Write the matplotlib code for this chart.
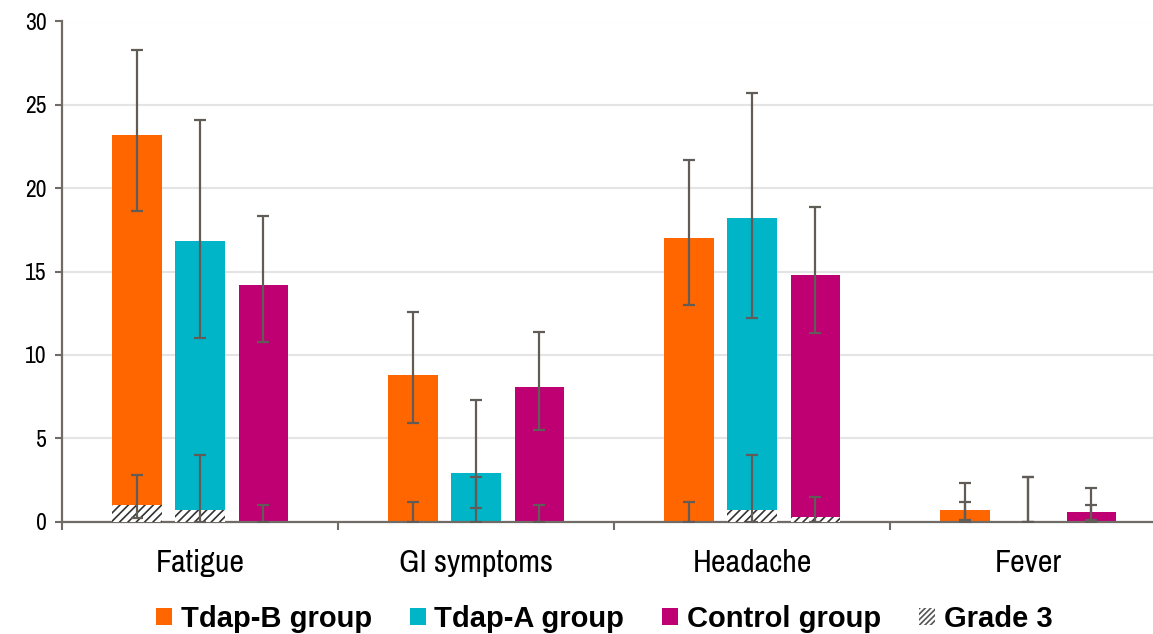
import matplotlib
matplotlib.use("Agg")
import matplotlib.pyplot as plt
import numpy as np
from matplotlib.patches import Patch

plt.rcParams['font.family'] = ['Archivo Narrow', 'Liberation Sans', 'DejaVu Sans']
plt.rcParams['hatch.linewidth'] = 1.2

# Data
categories = ['Fatigue', 'GI symptoms', 'Headache', 'Fever']
groups = ['Tdap-B group', 'Tdap-A group', 'Control group']
colors = ['#FF6600', '#00B5C8', '#BE0072']

tdap_b = [23.2, 8.8, 17.0, 0.7]
tdap_b_lo = [18.6, 5.9, 13.0, 0.1]
tdap_b_hi = [28.3, 12.6, 21.7, 2.3]
tdap_a = [16.8, 2.9, 18.2, 0.0]
tdap_a_lo = [11.0, 0.8, 12.2, 0.0]
tdap_a_hi = [24.1, 7.3, 25.7, 2.7]
control = [14.2, 8.1, 14.8, 0.6]
control_lo = [10.8, 5.5, 11.3, 0.1]
control_hi = [18.3, 11.4, 18.9, 2.0]

# Grade 3 portion
tdap_b_g3 = [1.0, 0.0, 0.0, 0.0]
tdap_b_g3_lo = [0.2, 0.0, 0.0, 0.0]
tdap_b_g3_hi = [2.8, 1.2, 1.2, 1.2]
tdap_a_g3 = [0.7, 0.0, 0.7, 0.0]
tdap_a_g3_lo = [0.0, 0.0, 0.0, 0.0]
tdap_a_g3_hi = [4.0, 2.7, 4.0, 2.7]
control_g3 = [0.0, 0.0, 0.3, 0.0]
control_g3_lo = [0.0, 0.0, 0.0, 0.0]
control_g3_hi = [1.0, 1.0, 1.5, 1.0]

totals = [(tdap_b, tdap_b_lo, tdap_b_hi), (tdap_a, tdap_a_lo, tdap_a_hi),
          (control, control_lo, control_hi)]
grade3 = [(tdap_b_g3, tdap_b_g3_lo, tdap_b_g3_hi), (tdap_a_g3, tdap_a_g3_lo, tdap_a_g3_hi),
          (control_g3, control_g3_lo, control_g3_hi)]

axis_col = '#716b66'
err_col = '#625c58'

fig = plt.figure(figsize=(11.53, 6.34), dpi=100)
ax = fig.add_axes([62 / 1153, 112.5 / 634, 1104 / 1153, 500 / 634])

x = np.arange(len(categories)) + 0.5
offsets = [-0.228, 0.0, 0.23]
width = 0.18

for i in range(3):
    vals, lo, hi = totals[i]
    g3, g3lo, g3hi = grade3[i]
    pos = x + offsets[i]
    vals = np.array(vals)
    ax.bar(pos, vals, width, color=colors[i], zorder=2)
    ax.bar(pos, g3, width, facecolor='white', edgecolor='#333333', hatch='////',
           linewidth=0, zorder=3)
    ax.errorbar(pos, vals, yerr=[vals - np.array(lo), np.array(hi) - vals], fmt='none',
                ecolor=err_col, elinewidth=1.6, capsize=4.5, capthick=1.6, zorder=4)
    g3 = np.array(g3)
    ax.errorbar(pos, g3, yerr=[g3 - np.array(g3lo), np.array(g3hi) - g3], fmt='none',
                ecolor=err_col, elinewidth=1.6, capsize=4.5, capthick=1.6, zorder=4)

ax.set_xlim(0, 4)
ax.set_ylim(0, 30)
ax.set_yticks(range(0, 31, 5))
ax.yaxis.grid(True, color='#e4e4e4', linewidth=1.5, zorder=0)
ax.set_axisbelow(True)

ax.set_xticks(range(0, 5))
ax.set_xticklabels([])
ax.set_xticks(x, minor=True)
ax.set_xticklabels(categories, minor=True, fontsize=23)
ax.tick_params(axis='x', which='minor', length=0, pad=20)
ax.tick_params(axis='x', which='major', length=6, width=1.5, color=axis_col, direction='out')
ax.tick_params(axis='y', length=5, width=1.5, color=axis_col, labelsize=17, pad=6)

for s in ['top', 'right']:
    ax.spines[s].set_visible(False)
for s in ['left', 'bottom']:
    ax.spines[s].set_color(axis_col)
    ax.spines[s].set_linewidth(1.6)

handles = [Patch(facecolor=c, edgecolor='none') for c in colors]
handles.append(Patch(facecolor='white', edgecolor='#555555', hatch='//////', linewidth=0))
fig.legend(handles, groups + ['Grade 3'], loc='center', bbox_to_anchor=(0.524, 0.024),
           ncol=4, frameon=False, handlelength=0.55, handleheight=0.55, handletextpad=0.3,
           columnspacing=1.3,
           prop={'family': ['Liberation Sans', 'DejaVu Sans'], 'weight': 'bold', 'size': 21})

fig.savefig('out.png', dpi=100)
